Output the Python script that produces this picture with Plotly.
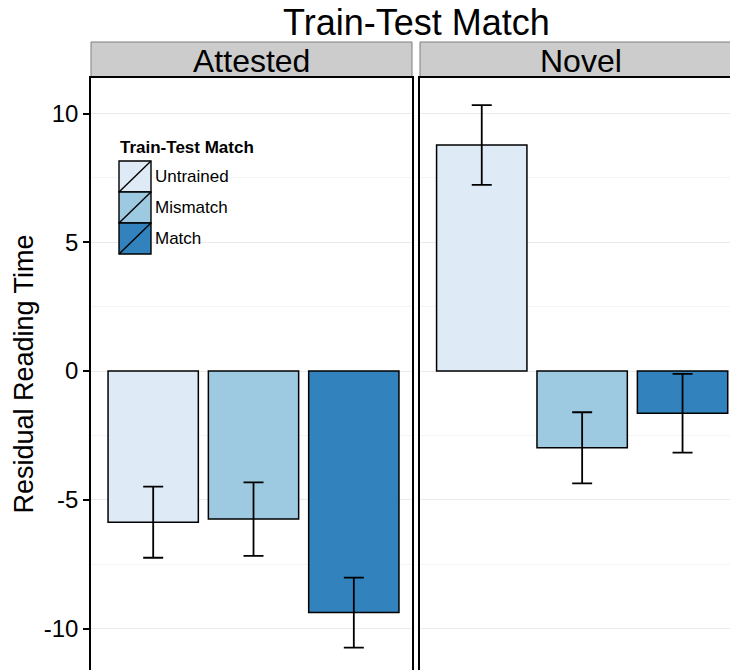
import plotly.graph_objects as go

# ---- data ----
conditions = ["Untrained", "Mismatch", "Match"]
colors = ["#DEEBF7", "#9ECAE1", "#3182BD"]
facets = ["Attested", "Novel"]
attested_mean = [-5.87, -5.75, -9.38]
attested_se = [1.38, 1.43, 1.36]
novel_mean = [8.78, -2.98, -1.64]
novel_se = [1.55, 1.38, 1.53]
y_ticks = [-10, -5, 0, 5, 10]
y_ticklabels = ["-10", "-5", "0", "5", "10"]

FONT = "Liberation Sans, Arial, sans-serif"
W, H = 730, 670
L, T = 91, 78
PW, PH = W - L, H - T


def px2x(px):
    return (px - L) / PW


def px2y(py):
    return 1 - (py - T) / PH


fig = go.Figure()
for i, (means, ses) in enumerate([(attested_mean, attested_se), (novel_mean, novel_se)]):
    ax = "" if i == 0 else "2"
    fig.add_trace(go.Bar(
        x=conditions, y=means, width=0.9,
        marker=dict(color=colors, line=dict(color="black", width=1.5)),
        error_y=dict(type="data", array=ses, color="black", thickness=1.8, width=10),
        xaxis="x" + ax, yaxis="y" + ax, showlegend=False,
    ))

d1 = [0, px2x(412)]
d2 = [px2x(420), 1]
yrange = [-11.61, 11.38]

common_y = dict(range=yrange, tickvals=y_ticks, ticktext=y_ticklabels, showgrid=True,
                gridcolor="#EBEBEB", gridwidth=1, zeroline=False, showline=True,
                linecolor="black", linewidth=1.6,
                minor=dict(tickvals=[-7.5, -2.5, 2.5, 7.5], showgrid=True, gridcolor="#F4F4F4",
                           gridwidth=1))
common_x = dict(showticklabels=False, ticks="", showgrid=False, zeroline=False,
                showline=True, linecolor="black", linewidth=1.6, side="top")

fig.update_layout(
    width=W, height=H, margin=dict(l=L, r=0, t=T, b=0),
    paper_bgcolor="white", plot_bgcolor="white",
    font=dict(family=FONT, color="black"),
    barmode="overlay",
    xaxis=dict(domain=d1, range=[-0.62, 2.58], anchor="y", **common_x),
    xaxis2=dict(domain=d2, range=[-0.615, -0.615 + 310 / 100.4], anchor="y2", **common_x),
    yaxis=dict(anchor="x", mirror=True, ticks="outside", ticklen=6, tickwidth=1.5,
               tickcolor="black", tickfont=dict(size=24, color="black"),
               title=dict(text="Residual Reading Time", font=dict(size=27), standoff=2),
               **common_y),
    yaxis2=dict(anchor="x2", matches="y", showticklabels=False, ticks="", **common_y),
)

# facet strips
strips = [(91, 412, facets[0]), (420, 741, facets[1])]
for x0, x1, lab in strips:
    fig.add_shape(type="rect", xref="paper", yref="paper",
                  x0=px2x(x0), x1=px2x(x1), y0=px2y(77), y1=px2y(42),
                  fillcolor="#CCCCCC", line=dict(color="#7F7F7F", width=1), layer="below")
    fig.add_annotation(text=lab, xref="paper", yref="paper", x=px2x((x0 + x1) / 2),
                       y=px2y(61), xanchor="center", yanchor="middle", showarrow=False,
                       font=dict(size=32, color="black"))

# main title
fig.add_annotation(text="Train-Test Match", xref="paper", yref="paper", x=px2x(416),
                   y=px2y(23), xanchor="center", yanchor="middle", showarrow=False,
                   font=dict(size=36, color="black"))

# legend (inside first panel)
fig.add_annotation(text="<b>Train-Test Match</b>", xref="paper", yref="paper", x=px2x(118),
                   y=px2y(147), xanchor="left", yanchor="middle", showarrow=False,
                   font=dict(size=17, color="black"))
box_top = 161
box_h = 31
for k, (cond, col) in enumerate(zip(conditions, colors)):
    y0 = box_top + k * box_h
    y1 = y0 + box_h
    fig.add_shape(type="rect", xref="paper", yref="paper",
                  x0=px2x(119), x1=px2x(151), y0=px2y(y1), y1=px2y(y0),
                  fillcolor=col, line=dict(color="black", width=1.4))
    fig.add_shape(type="line", xref="paper", yref="paper",
                  x0=px2x(119), x1=px2x(151), y0=px2y(y1), y1=px2y(y0),
                  line=dict(color="black", width=1.4))
    fig.add_annotation(text=cond, xref="paper", yref="paper", x=px2x(153),
                       y=px2y((y0 + y1) / 2), xanchor="left", yanchor="middle",
                       showarrow=False, font=dict(size=17, color="black"))

fig.write_html("out.html", config={"displayModeBar": False},
               post_script="document.body.style.margin='0';document.body.style.overflow='hidden';")
